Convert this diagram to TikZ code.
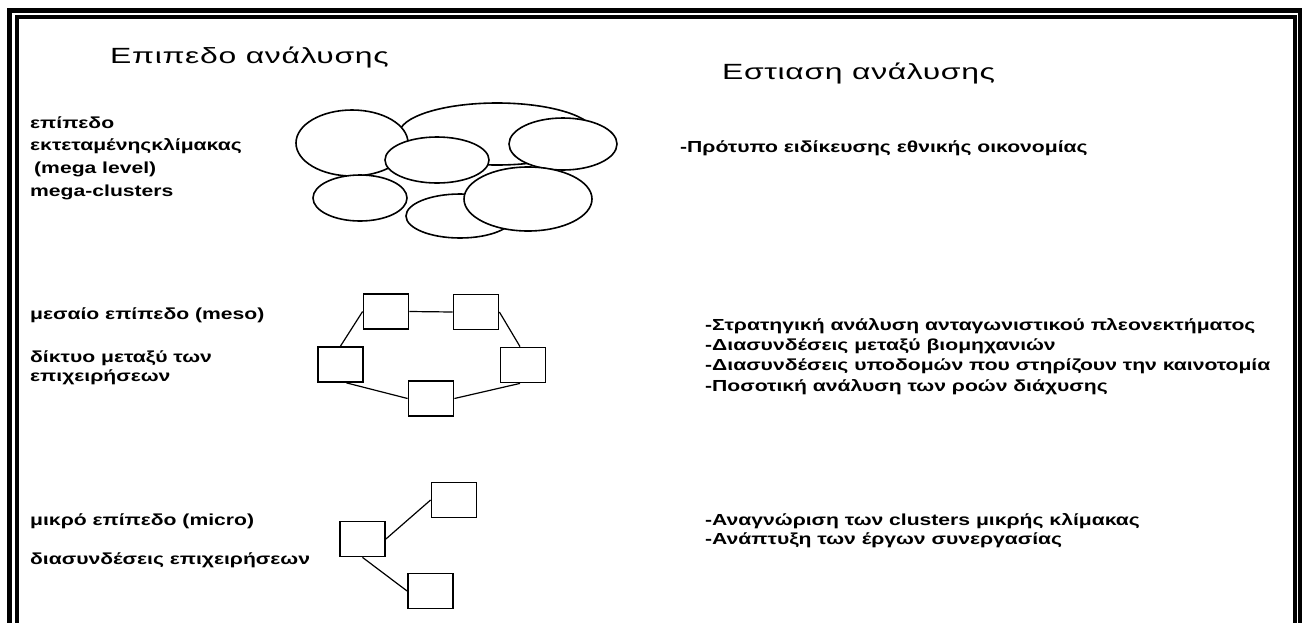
\documentclass[tikz,border=0pt]{standalone}
\usepackage{fontspec}
\usetikzlibrary{shapes.geometric}
\newfontfamily\headfont[FakeStretch=1.45,LetterSpace=3]{Liberation Sans}
\newfontfamily\bodyfont[FakeStretch=1.32]{Liberation Sans}
\begin{document}
\begin{tikzpicture}[x=1pt,y=-1pt,
  heading/.style={font=\headfont\fontsize{22}{25}\selectfont, inner sep=0pt, anchor=west},
  label/.style={font=\bodyfont\bfseries\fontsize{16}{19}\selectfont, inner sep=0pt, anchor=west},
  blob/.style={ellipse, draw, fill=white, line width=1.6pt, inner sep=0pt},
  firm/.style={rectangle, draw, fill=white, line width=1.8pt, minimum width=45pt, minimum height=35pt, inner sep=0pt},
  link/.style={line width=1.2pt},
  frameouter/.style={line width=5pt},
  frameinner/.style={line width=4pt}]
\useasboundingbox (0,0) rectangle (1302,622);
\fill[white] (0,0) rectangle (1302,622);

% double page frame, open at the bottom
\draw[frameouter] (9.5,640) -- (9.5,10.5) -- (1300.5,10.5) -- (1300.5,640);
\draw[frameinner] (17,640) -- (17,17) -- (1295,17) -- (1295,640);

% column headings
\node[heading] (hleft) at (110,57) {Επιπεδο ανάλυσης};
\node[heading] (hright) at (722,73) {Εστιαση ανάλυσης};

% mega level: overlapping clusters
\node[blob, minimum width=196pt, minimum height=62pt] (e2) at (497,134) {};
\node[blob, minimum width=112pt, minimum height=66pt] (e1) at (352,143) {};
\node[blob, minimum width=108pt, minimum height=52pt] (e4) at (563,144) {};
\node[blob, minimum width=104pt, minimum height=46pt] (e3) at (437,160) {};
\node[blob, minimum width=94pt, minimum height=46pt] (e5) at (360,198) {};
\node[blob, minimum width=108pt, minimum height=44pt] (e6) at (460,216) {};
\node[blob, minimum width=128pt, minimum height=64pt] (e7) at (528,199) {};

\node[label] (l1) at (30,123) {επίπεδο};
\node[label] (l2) at (30,146) {εκτεταμένηςκλίμακας};
\node[label] (l3) at (34,169) {(mega level)};
\node[label] (l4) at (30,192) {mega-clusters};
\node[label] (r1) at (680,148) {-Πρότυπο ειδίκευσης εθνικής οικονομίας};

% meso level: network of firms
\node[firm] (ma) at (386,311.5) {};
\node[firm] (mb) at (476,312) {};
\node[firm] (mc) at (340.5,364.5) {};
\node[firm] (md) at (523,365) {};
\node[firm] (me) at (431,398.5) {};
\draw[link] (ma.east) -- (mb.west);
\draw[link] (mc.north) -- (ma.west);
\draw[link] (mb.east) -- ([xshift=-3pt]md.north);
\draw[link] ([xshift=6pt]mc.south) -- (me.west);
\draw[link] ([xshift=-3pt]md.south) -- (me.east);

\node[label] (l5) at (30,315) {μεσαίο επίπεδο (meso)};
\node[label] (l6) at (30,358) {δίκτυο μεταξύ των};
\node[label] (l7) at (30,377) {επιχειρήσεων};
\node[label] (r2) at (705,326) {-Στρατηγική ανάλυση ανταγωνιστικού πλεονεκτήματος};
\node[label] (r3) at (705,346) {-Διασυνδέσεις μεταξύ βιομηχανιών};
\node[label] (r4) at (705,366) {-Διασυνδέσεις υποδομών που στηρίζουν την καινοτομία};
\node[label] (r5) at (705,387) {-Ποσοτική ανάλυση των ροών διάχυσης};

% micro level: links between firms
\node[firm] (sa) at (362.5,539) {};
\node[firm] (sb) at (454,500) {};
\node[firm] (sc) at (430.5,591) {};
\draw[link] (sa.east) -- (sb.west);
\draw[link] (sa.south) -- (sc.west);

\node[label] (l8) at (30,521) {μικρό επίπεδο (micro)};
\node[label] (l9) at (30,560) {διασυνδέσεις επιχειρήσεων};
\node[label] (r6) at (705,521) {-Αναγνώριση των clusters μικρής κλίμακας};
\node[label] (r7) at (705,540) {-Ανάπτυξη των έργων συνεργασίας};
\end{tikzpicture}
\end{document}
